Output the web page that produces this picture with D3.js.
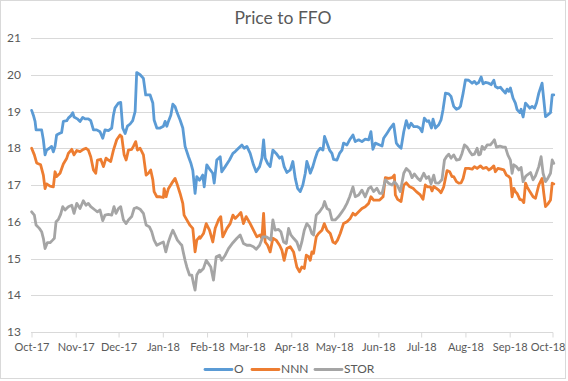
<!DOCTYPE html>
<html>
<head>
<meta charset="utf-8">
<script src="https://cdn.jsdelivr.net/npm/d3@7"></script>
<style>
  html, body { margin: 0; padding: 0; background: #fff; }
  svg { display: block; }
  text { font-family: Lato, "Liberation Sans", sans-serif; fill: #595959; }
</style>
</head>
<body>
<svg id="chart" width="568" height="381"></svg>
<script>
// ---- data: [day offset from 2017-10-01, value] ----
const seriesNames = ["O", "NNN", "STOR"];
const seriesColors = ["#5B9BD5", "#ED7D31", "#A5A5A5"];
const yTicks = [13, 14, 15, 16, 17, 18, 19, 20, 21];
const startDate = "2017-10-01";
const endDate = "2018-10-01";

const O = [[0.1,19.03],[1.3,18.9],[2.5,18.73],[3.2,18.5],[6.0,18.5],[7.1,18.5],[8.3,18.23],[9.5,17.82],[10.6,17.95],[12.5,18.0],[14.1,18.05],[15.3,17.9],[16.5,18.05],[17.6,18.36],[19.5,18.4],[21.1,18.43],[22.3,18.73],[24.7,18.75],[25.8,18.82],[27.5,18.88],[28.9,18.97],[29.8,18.85],[32.1,18.8],[34.0,18.73],[35.9,18.84],[37.5,18.8],[39.8,18.8],[41.5,18.75],[43.4,18.5],[45.7,18.5],[48.0,18.45],[49.9,18.27],[51.5,18.5],[53.9,18.48],[56.2,18.55],[57.4,18.9],[58.5,19.1],[60.9,19.23],[62.5,19.25],[63.9,18.55],[65.6,18.4],[67.2,18.6],[69.1,18.66],[70.9,18.75],[72.6,19.0],[73.7,20.06],[76.1,20.0],[78.4,19.9],[80.0,19.45],[83.1,19.45],[85.0,19.23],[85.9,18.77],[87.8,18.55],[90.1,18.55],[92.4,18.6],[93.6,18.73],[94.8,18.6],[95.9,18.73],[97.6,18.9],[99.0,19.2],[100.6,19.13],[102.2,18.95],[104.1,18.77],[106.0,18.55],[107.6,18.05],[110.0,17.77],[111.6,17.6],[113.0,17.4],[114.6,16.77],[115.8,17.23],[117.7,17.13],
[118.6,17.18],[120.0,17.27],[121.0,16.95],[122.8,17.55],[125.2,17.41],[127.0,17.32],[128.0,17.05],[129.8,17.68],[132.2,17.77],[133.3,17.36],[135.7,17.5],[138.7,17.68],[141.1,17.86],[142.7,17.91],[145.0,18.0],[147.4,18.09],[149.0,18.0],[150.9,18.05],[153.2,17.86],[155.5,17.55],[157.4,17.36],[159.8,17.5],[161.4,17.73],[162.6,18.23],[163.7,17.73],[165.4,17.59],[167.2,17.5],[169.1,17.95],[171.4,17.86],[173.8,17.73],[175.4,17.77],[177.0,17.5],[178.9,17.34],[181.3,17.41],[183.1,17.64],[184.8,17.18],[186.4,16.91],[188.3,16.82],[190.1,17.0],[191.8,17.32],[192.9,17.64],[194.1,17.5],[195.3,17.32],[197.1,17.5],[198.8,17.73],[200.4,17.91],[202.3,18.0],[204.2,17.95],[205.3,18.32],[207.0,18.14],[208.8,17.95],[210.5,17.86],[211.6,17.7],[214.0,17.68],[215.8,17.86],[217.5,17.95],[218.6,18.14],[221.0,18.09],[222.9,18.23],[225.2,18.36],[226.8,18.18],[229.2,18.23],[231.5,18.18],[233.8,18.25],[236.2,18.23],[237.8,18.45],[239.2,17.97],[240.9,18.14],[243.9,18.09],
[245.6,18.06],[246.7,18.27],[249.1,18.41],[251.4,18.55],[253.7,18.66],[255.6,18.14],[257.2,18.06],[258.9,18.0],[260.8,18.45],[262.6,18.75],[264.3,18.55],[265.9,18.68],[267.8,18.59],[270.1,18.59],[272.0,18.55],[273.6,18.45],[275.2,18.82],[277.1,18.73],[278.3,18.75],[280.2,18.55],[281.3,18.79],[283.0,18.55],[285.3,18.64],[286.9,18.77],[288.3,19.05],[290.0,19.5],[292.3,19.48],[293.9,19.41],[295.8,19.14],[297.7,19.06],[299.3,19.09],[300.5,19.14],[302.4,19.5],[304.0,19.86],[306.3,19.85],[308.7,19.77],[310.3,19.82],[311.7,19.75],[313.3,19.79],[315.0,19.94],[316.4,19.75],[318.0,19.79],[320.3,19.77],[322.0,19.73],[323.9,19.85],[325.0,19.68],[326.7,19.64],[328.5,19.66],[330.4,19.57],[332.0,19.5],[333.2,19.61],[334.4,19.55],[335.5,19.64],[337.4,19.36],[339.0,19.23],[340.2,19.05],[342.1,18.97],[343.0,19.06],[344.4,18.85],[346.1,19.23],[347.2,19.18],[349.1,19.09],[350.7,19.14],[352.4,19.09],[353.8,19.23],[355.4,19.5],[357.7,19.77],[358.9,19.32],[360.1,18.86],[361.7,18.91],[363.6,18.97],[364.8,19.45],[365.9,19.45]];

const NNN = [[0.1,18.0],[2.0,17.82],[3.6,17.6],[6.4,17.55],[8.3,17.27],[9.5,16.9],[10.6,17.03],[13.0,16.97],[15.3,16.95],[16.5,17.36],[17.6,17.23],[20.0,17.32],[22.3,17.57],[24.7,17.73],[25.8,17.86],[28.2,17.97],[29.8,17.82],[31.7,17.94],[34.0,17.91],[36.3,17.97],[38.2,18.0],[39.8,17.95],[41.5,17.77],[43.4,17.41],[45.0,17.32],[46.2,17.68],[48.5,17.7],[50.4,17.5],[52.2,17.73],[53.9,17.68],[55.5,17.64],[57.4,17.95],[59.7,18.23],[62.0,18.36],[63.2,18.32],[64.9,17.82],[66.3,17.68],[67.9,17.95],[70.2,17.97],[71.4,18.05],[73.0,18.18],[74.2,17.95],[76.1,18.0],[78.4,17.82],[80.3,17.27],[81.9,17.32],[83.5,17.41],[85.0,17.14],[85.9,16.82],[87.8,16.68],[90.1,16.68],[92.4,16.66],[92.9,16.9],[94.3,16.68],[95.9,16.9],[98.3,17.05],[100.6,17.18],[101.8,17.05],[104.1,16.77],[106.0,16.5],[106.9,16.18],[108.8,16.05],[111.1,15.9],[113.0,15.82],[114.6,15.18],[115.8,15.5],[117.7,15.59],
[118.2,15.55],[120.5,15.68],[122.4,15.95],[124.7,15.77],[127.0,15.45],[128.7,15.82],[131.0,16.05],[132.6,16.14],[134.0,15.59],[136.9,15.82],[139.2,15.95],[141.1,16.18],[142.7,16.09],[145.0,16.18],[146.7,16.25],[148.5,15.95],[150.4,16.14],[153.2,15.95],[155.5,15.77],[157.9,15.59],[160.2,15.64],[161.4,15.55],[162.6,16.23],[163.7,15.45],[165.4,15.36],[167.2,15.18],[169.1,15.55],[171.4,15.5],[173.8,15.36],[175.4,15.23],[177.0,14.95],[178.9,15.27],[181.3,15.32],[183.6,15.18],[185.9,14.77],[187.8,14.64],[189.4,14.77],[191.1,14.73],[192.5,15.09],[194.1,15.05],[195.3,14.95],[196.4,15.18],[197.6,15.14],[199.5,15.59],[201.1,15.68],[203.5,15.77],[205.1,15.95],[207.0,15.77],[209.3,15.68],[211.2,15.45],[212.8,15.41],[214.4,15.5],[216.3,15.68],[218.6,15.95],[221.0,16.0],[223.3,16.09],[225.2,16.23],[226.8,16.18],[229.2,16.27],[231.5,16.36],[233.8,16.41],[236.2,16.5],[237.8,16.68],[239.7,16.59],[242.0,16.59],[243.9,16.59],
[246.3,16.68],[247.9,17.2],[250.2,17.18],[252.6,17.2],[254.2,17.27],[254.9,16.73],[256.5,16.61],[258.9,16.55],[260.8,17.0],[262.6,17.06],[265.0,16.95],[267.3,16.91],[269.6,16.82],[272.4,16.73],[274.3,16.61],[275.9,17.0],[277.6,16.95],[279.5,16.95],[280.6,16.84],[281.8,16.96],[283.7,16.91],[285.3,16.86],[286.9,16.79],[288.8,16.95],[291.1,17.39],[293.0,17.36],[294.6,17.23],[295.8,17.23],[297.7,17.09],[299.3,17.05],[301.0,17.06],[302.4,17.18],[304.0,17.45],[306.3,17.45],[308.7,17.43],[310.3,17.5],[312.2,17.45],[314.5,17.52],[316.4,17.45],[318.7,17.48],[320.3,17.41],[322.0,17.45],[323.9,17.52],[325.0,17.36],[326.7,17.45],[329.0,17.43],[330.9,17.41],[332.7,17.27],[334.4,17.23],[335.5,17.18],[336.7,16.68],[337.9,16.91],[339.0,16.82],[340.2,16.77],[342.1,16.61],[343.7,16.59],[344.9,16.52],[346.1,17.05],[347.2,16.95],[349.1,16.82],[351.4,16.68],[353.1,16.64],[355.4,17.0],[357.7,17.18],[358.9,16.77],[360.1,16.41],[361.7,16.48],[363.6,16.59],[364.8,17.05],[365.9,17.03]];

const STOR = [[0.1,16.27],[2.0,16.18],[3.2,15.91],[5.5,15.82],[7.1,15.73],[8.3,15.55],[9.5,15.27],[11.1,15.43],[13.0,15.43],[14.8,15.5],[16.0,15.55],[17.2,16.0],[18.8,16.06],[20.4,16.2],[21.9,16.41],[23.5,16.32],[25.8,16.41],[28.2,16.45],[29.8,16.23],[31.7,16.5],[34.0,16.36],[36.3,16.57],[38.2,16.45],[39.8,16.5],[41.5,16.41],[44.5,16.32],[46.2,16.27],[48.0,16.32],[49.9,16.03],[51.5,16.18],[53.9,16.2],[56.2,16.18],[57.8,16.41],[59.2,16.23],[60.9,16.36],[62.5,16.41],[64.4,16.05],[66.3,15.95],[67.9,16.05],[70.2,16.14],[71.9,16.36],[73.7,16.39],[76.1,16.34],[78.4,16.23],[80.3,15.91],[82.6,15.86],[84.2,15.73],[85.9,15.5],[87.8,15.36],[90.1,15.41],[92.4,15.45],[94.1,15.18],[95.9,15.45],[97.6,15.64],[99.0,15.77],[100.6,15.64],[102.2,15.5],[104.1,15.41],[105.3,15.36],[106.5,15.14],[107.6,14.95],[108.8,14.77],[110.7,14.55],[112.3,14.55],[113.5,14.32],[114.6,14.14],[115.8,14.55],[117.7,14.68],
[118.2,14.64],[120.5,14.73],[122.4,14.95],[124.0,14.86],[125.6,14.77],[127.5,14.41],[129.4,15.05],[131.7,15.09],[133.3,14.95],[135.7,15.09],[138.0,15.27],[141.1,15.43],[143.9,15.55],[146.2,15.64],[148.5,15.41],[150.9,15.36],[153.2,15.36],[155.5,15.32],[157.4,15.25],[159.8,15.36],[162.1,15.59],[164.4,15.59],[166.1,15.55],[167.7,15.5],[169.1,16.05],[170.7,15.77],[173.1,15.79],[174.7,15.73],[176.6,15.45],[178.5,15.41],[180.1,15.82],[181.7,15.64],[183.6,15.55],[185.9,15.45],[187.8,15.23],[189.4,15.45],[191.1,15.77],[192.9,15.95],[194.8,15.86],[196.4,15.68],[197.6,15.64],[199.5,16.18],[201.8,16.27],[204.2,16.41],[205.3,16.55],[207.0,16.36],[208.8,16.32],[210.5,16.05],[212.8,16.05],[215.1,16.14],[217.5,16.27],[219.1,16.36],[221.0,16.5],[222.9,16.68],[225.2,16.95],[226.8,16.68],[229.2,16.73],[231.5,16.86],[233.8,16.68],[236.2,16.91],[237.8,16.95],[239.7,16.82],[242.0,16.91],[243.9,16.77],
[245.6,16.77],[247.9,17.14],[250.2,17.05],[252.6,17.0],[254.2,17.09],[256.1,17.0],[258.4,16.82],[260.8,17.32],[262.6,17.45],[265.0,17.36],[266.6,17.2],[268.2,17.3],[270.6,17.18],[272.4,17.12],[274.8,17.32],[276.6,17.18],[278.3,17.23],[279.9,17.03],[281.8,17.27],[283.0,17.06],[285.3,17.05],[287.6,17.15],[289.3,17.68],[290.7,17.77],[292.3,17.84],[293.9,17.73],[295.8,17.82],[297.7,17.68],[300.0,17.7],[301.6,17.86],[303.3,18.09],[305.2,18.03],[307.0,17.91],[308.7,17.82],[310.3,17.84],[312.2,18.0],[313.3,17.82],[314.5,17.84],[315.7,18.05],[317.3,17.97],[319.2,18.09],[321.5,18.09],[323.4,18.18],[324.3,18.23],[325.7,18.03],[328.1,18.06],[330.4,18.03],[332.0,18.03],[333.7,17.82],[335.5,17.68],[336.7,17.32],[337.9,17.55],[339.7,17.5],[341.4,17.41],[343.0,17.48],[344.4,17.09],[346.1,17.23],[347.2,17.27],[349.6,17.34],[351.4,17.14],[353.1,17.25],[355.4,17.5],[357.0,17.77],[358.4,17.32],[360.1,17.09],[361.7,17.18],[363.6,17.32],[364.8,17.68],[365.9,17.59]];

const seriesData = [O, NNN, STOR];

// ---- drawing ----
const svg = d3.select("#chart");
const parse = d3.timeParse("%Y-%m-%d");
const t0 = parse(startDate), t1 = parse(endDate);
const toDate = d => new Date(t0.getTime() + d * 864e5);

const x = d3.scaleTime().domain([t0, t1]).range([31.5, 552.5]);
const y = d3.scaleLinear().domain([13, 21]).range([332, 38]);

// chart border
svg.append("rect").attr("x", 0.5).attr("y", 0.5).attr("width", 565).attr("height", 378)
  .attr("fill", "#fff").attr("stroke", "#D9D9D9").attr("stroke-width", 1);

// gridlines
svg.append("g").selectAll("line").data(yTicks).join("line")
  .attr("x1", 31).attr("x2", 553)
  .attr("y1", d => Math.round(y(d)) + 0.5).attr("y2", d => Math.round(y(d)) + 0.5)
  .attr("stroke", "#D9D9D9").attr("stroke-width", 1);

// y labels
svg.append("g").selectAll("text").data(yTicks).join("text")
  .attr("x", 21).attr("y", d => y(d)).attr("dy", "0.35em")
  .attr("text-anchor", "end").attr("font-size", 12).text(d => d);

// x axis
const xAxis = d3.axisBottom(x)
  .ticks(d3.timeMonth.every(1))
  .tickFormat(d3.timeFormat("%b-%y"))
  .tickSize(5).tickSizeOuter(0).tickPadding(6);
const gx = svg.append("g").attr("transform", `translate(0,${Math.round(y(13)) + 0.5})`).call(xAxis);
gx.select(".domain").remove();
gx.selectAll(".tick line").attr("stroke", "#D9D9D9");
gx.selectAll(".tick text").attr("font-size", 11).attr("fill", "#595959")
  .style("font-family", "Lato, 'Liberation Sans', sans-serif");
// keep the last label inside the chart edge
const lastTick = gx.selectAll(".tick text").filter((d, i, n) => i === n.length - 1);
lastTick.attr("text-anchor", "end").attr("x", 565 - x(t1));

// lines
const line = d3.line().x(d => x(toDate(d[0]))).y(d => y(d[1]));
svg.append("g").selectAll("path").data(seriesData).join("path")
  .attr("d", line)
  .attr("fill", "none")
  .attr("stroke", (d, i) => seriesColors[i])
  .attr("stroke-width", 2.8)
  .attr("stroke-linejoin", "round")
  .attr("stroke-linecap", "round");

// title
svg.append("text").attr("x", 283).attr("y", 24).attr("text-anchor", "middle")
  .attr("font-size", 17.5).text("Price to FFO");

// legend
const legendX = [205, 252, 315];
const lg = svg.append("g").selectAll("g").data(seriesNames).join("g")
  .attr("transform", (d, i) => `translate(${legendX[i]},369)`);
lg.append("line").attr("x1", 0).attr("x2", 27).attr("y1", 0.5).attr("y2", 0.5)
  .attr("stroke", (d, i) => seriesColors[i]).attr("stroke-width", 2.8).attr("stroke-linecap", "round");
lg.append("text").attr("x", 29).attr("y", 0).attr("dy", "0.35em")
  .attr("font-size", 12).text(d => d);
</script>
</body>
</html>
